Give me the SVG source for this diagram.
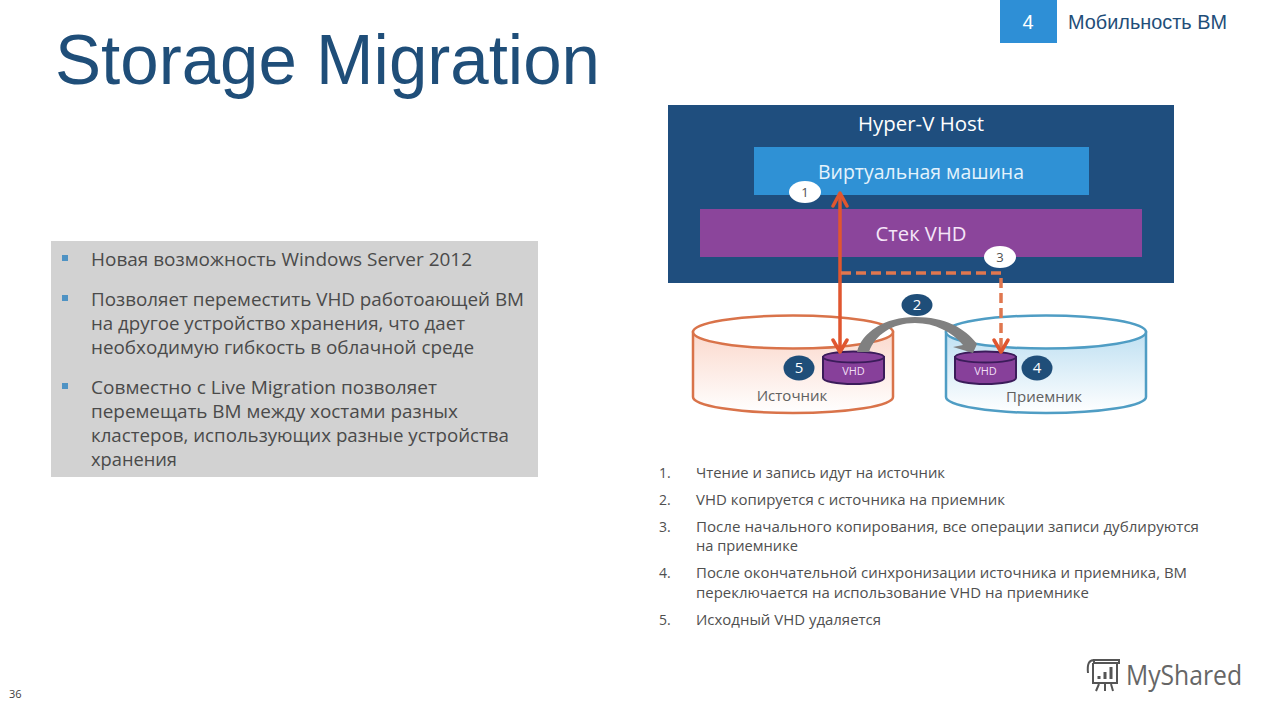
<svg xmlns="http://www.w3.org/2000/svg" width="1279" height="720" viewBox="0 0 1279 720">
<style>
text{font-family:"Open Sans","Noto Sans","Liberation Sans",sans-serif;}
.a{font-family:"Liberation Sans",Arial,sans-serif;}
.b{font-size:18px;fill:#4a4a4a;}
.l{font-size:14px;fill:#4f4f4f;}
.w{fill:#fff;text-anchor:middle;}
.bd{fill:#1f4e79;}
.bn{fill:#fff;font-size:15px;text-anchor:middle;}
.wb{fill:#fff;}
.wn{fill:#505050;font-size:13px;text-anchor:middle;}
.red{fill:none;stroke:#e0562f;stroke-width:3.5;}
.head{fill:none;stroke:#e0562f;stroke-width:3.5;stroke-linecap:round;stroke-linejoin:round;}
.dash{fill:none;stroke:#e0774f;stroke-width:3.5;stroke-dasharray:10 5;}
.vhd{fill:#87409a;stroke:#3b1c5a;stroke-width:2;}
.vhdt{fill:#f0dff5;font-size:11px;text-anchor:middle;}
.cap{font-size:15px;fill:#606060;text-anchor:middle;}
</style>
<defs>
<linearGradient id="gr" x1="0" y1="0" x2="0" y2="1"><stop offset="0" stop-color="#fbd9cd"/><stop offset="1" stop-color="#ffffff"/></linearGradient>
<linearGradient id="gb" x1="0" y1="0" x2="0" y2="1"><stop offset="0" stop-color="#bfe0f2"/><stop offset="1" stop-color="#ffffff"/></linearGradient>
</defs>
<rect width="1279" height="720" fill="#fff"/>
<text id="title" class="a" x="55" y="84" font-size="70" fill="#1f4e79" textLength="545" lengthAdjust="spacingAndGlyphs">Storage Migration</text>
<g id="section">
<rect x="1000" y="0" width="57" height="43" fill="#2e8fd6"/>
<text class="a w" x="1028" y="29" font-size="20">4</text>
<text class="a" x="1068" y="29" font-size="20" fill="#1f4e79" textLength="159" lengthAdjust="spacingAndGlyphs">Мобильность ВМ</text>
</g>
<g id="bullets">
<rect x="51" y="241" width="487" height="236" fill="#d2d2d2"/>
<rect x="62" y="255" width="6" height="6" fill="#4f93c4"/>
<rect x="62" y="295" width="6" height="6" fill="#4f93c4"/>
<rect x="62" y="383" width="6" height="6" fill="#4f93c4"/>
<text class="b" x="91" y="266" textLength="381" lengthAdjust="spacingAndGlyphs">Новая возможность Windows Server 2012</text>
<text class="b" x="91" y="306" textLength="433" lengthAdjust="spacingAndGlyphs">Позволяет переместить VHD работоающей ВМ</text>
<text class="b" x="91" y="330" textLength="374" lengthAdjust="spacingAndGlyphs">на другое устройство хранения, что дает</text>
<text class="b" x="91" y="354" textLength="383" lengthAdjust="spacingAndGlyphs">необходимую гибкость в облачной среде</text>
<text class="b" x="91" y="394" textLength="346" lengthAdjust="spacingAndGlyphs">Совместно с Live Migration позволяет</text>
<text class="b" x="91" y="418" textLength="367" lengthAdjust="spacingAndGlyphs">перемещать ВМ между хостами разных</text>
<text class="b" x="91" y="442" textLength="418" lengthAdjust="spacingAndGlyphs">кластеров, использующих разные устройства</text>
<text class="b" x="91" y="466" textLength="86" lengthAdjust="spacingAndGlyphs">хранения</text>
</g>
<g id="host">
<rect x="668" y="105" width="506" height="178" fill="#1f4e7e"/>
<text x="921" y="131" font-size="20" class="w" textLength="126" lengthAdjust="spacingAndGlyphs">Hyper-V Host</text>
</g>
<g id="vm">
<rect x="754" y="147" width="335" height="48" fill="#2f91d5"/>
<text x="921" y="179" font-size="20" fill="#e4f3fc" text-anchor="middle" textLength="206" lengthAdjust="spacingAndGlyphs">Виртуальная машина</text>
</g>
<g id="stack">
<rect x="700" y="209" width="442" height="48" fill="#8b459b"/>
<text x="921" y="241" font-size="20" fill="#f5e6f8" text-anchor="middle" textLength="91" lengthAdjust="spacingAndGlyphs">Стек VHD</text>
</g>
<g id="source">
<path d="M693 332V397A100 16 0 0 0 893 397V332Z" fill="url(#gr)" stroke="#d9734a" stroke-width="2.500"/>
<ellipse cx="793" cy="332" rx="100" ry="16.500" fill="#fff" stroke="#d9734a" stroke-width="2.500"/>
<text class="cap" x="792" y="401">Источник</text>
</g>
<g id="target">
<path d="M946 332V397A100 16 0 0 0 1146 397V332Z" fill="url(#gb)" stroke="#4f9dc4" stroke-width="2.500"/>
<ellipse cx="1046" cy="332" rx="100" ry="16.500" fill="#fff" stroke="#4f9dc4" stroke-width="2.500"/>
<text class="cap" x="1044" y="402">Приемник</text>
</g>
<g id="vhd-source">
<path class="vhd" d="M823 357V378A30.500 6 0 0 0 884 378V357Z"/>
<ellipse class="vhd" cx="853.500" cy="357" rx="30.500" ry="5.500"/>
<text class="vhdt" x="853.500" y="375">VHD</text>
</g>
<g id="vhd-target">
<path class="vhd" d="M955 357V378A30.500 6 0 0 0 1016 378V357Z"/>
<ellipse class="vhd" cx="985.500" cy="357" rx="30.500" ry="5.500"/>
<text class="vhdt" x="985.500" y="375">VHD</text>
</g>
<g id="connectors">
<path class="red" d="M840 193V352"/>
<path class="head" d="M833 206L840 193L847 206M833 340L840 352L847 340"/>
<path class="dash" d="M841 273H1001V352"/>
<path class="head" d="M994 340L1001 352L1008 340"/>
<path d="M857 352C862 332 885 317 915 317C945 317 965 328 977 344L973 353L953 347L963 345C952 332 935 323 915 323C892 323 875 335 869 352Z" fill="#808080"/>
</g>
<g id="badge-1"><ellipse class="wb" cx="805" cy="192" rx="16" ry="11"/><text class="wn" x="805" y="197">1</text></g>
<g id="badge-3"><ellipse class="wb" cx="1000" cy="257" rx="16" ry="11"/><text class="wn" x="1000" y="262">3</text></g>
<g id="badge-2"><ellipse class="bd" cx="917" cy="305" rx="15.500" ry="11"/><text class="bn" x="917" y="310">2</text></g>
<g id="badge-5"><ellipse class="bd" cx="799" cy="368" rx="15.500" ry="12.500"/><text class="bn" x="799" y="373">5</text></g>
<g id="badge-4"><ellipse class="bd" cx="1037" cy="368" rx="15.500" ry="12.500"/><text class="bn" x="1037" y="373">4</text></g>
<g id="steps">
<text class="l" x="659" y="478">1.</text>
<text class="l" x="696" y="478" textLength="249" lengthAdjust="spacingAndGlyphs">Чтение и запись идут на источник</text>
<text class="l" x="659" y="505">2.</text>
<text class="l" x="696" y="505" textLength="309" lengthAdjust="spacingAndGlyphs">VHD копируется с источника на приемник</text>
<text class="l" x="659" y="532">3.</text>
<text class="l" x="696" y="532" textLength="503" lengthAdjust="spacingAndGlyphs">После начального копирования, все операции записи дублируются</text>
<text class="l" x="696" y="551" textLength="102" lengthAdjust="spacingAndGlyphs">на приемнике</text>
<text class="l" x="659" y="578">4.</text>
<text class="l" x="696" y="578" textLength="491" lengthAdjust="spacingAndGlyphs">После окончательной синхронизации источника и приемника, ВМ</text>
<text class="l" x="696" y="598" textLength="393" lengthAdjust="spacingAndGlyphs">переключается на использование VHD на приемнике</text>
<text class="l" x="659" y="625">5.</text>
<text class="l" x="696" y="625" textLength="185" lengthAdjust="spacingAndGlyphs">Исходный VHD удаляется</text>
</g>
<text id="page" x="9" y="698" font-size="11" fill="#404040">36</text>
<g id="logo" fill="none" stroke="#555" stroke-width="2">
<path d="M1094 660H1119V663H1094ZM1094 660C1089 660 1087 664 1088 673M1093 663V683H1117V663"/>
<path d="M1099 679V676M1105 679V672M1111 679V667" stroke-width="3"/>
<path d="M1099 684L1096 691M1105 684V691M1111 684L1113 691"/>
<text x="1126" y="685" font-size="27" fill="#666" stroke="none" textLength="116" lengthAdjust="spacingAndGlyphs">MyShared</text>
</g>
</svg>
